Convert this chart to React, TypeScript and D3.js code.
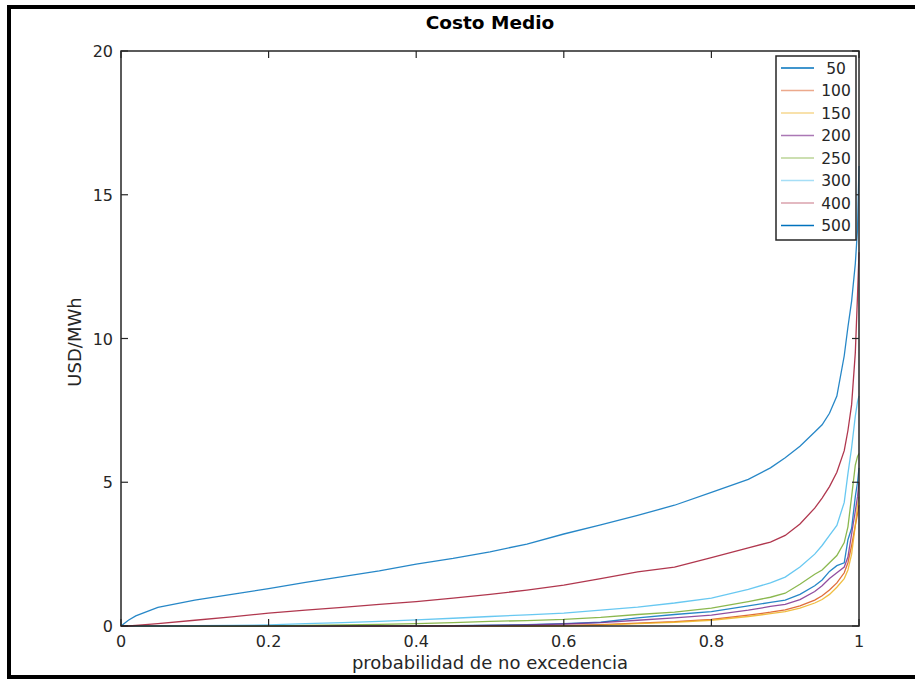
import React from "react";
import * as d3 from "d3";

const probs = [0, 0.01, 0.02, 0.05, 0.1, 0.15, 0.2, 0.25, 0.3, 0.35, 0.4, 0.45, 0.5, 0.55, 0.6, 0.65, 0.7, 0.75, 0.8, 0.85, 0.88, 0.9, 0.92, 0.94, 0.95, 0.96, 0.97, 0.98, 0.985, 0.99, 0.995, 0.998, 1];

const s50 = [0, 0, 0, 0, 0, 0, 0, 0, 0, 0, 0, 0.01, 0.03, 0.05, 0.08, 0.13, 0.28, 0.4, 0.5, 0.7, 0.82, 0.9, 1.1, 1.4, 1.6, 1.9, 2.1, 2.2, 3.0, 3.4, 4.5, 5.0, 5.5];
const s100 = [0, 0, 0, 0, 0, 0, 0, 0, 0, 0, 0, 0, 0, 0, 0.02, 0.05, 0.1, 0.15, 0.23, 0.38, 0.48, 0.56, 0.7, 0.9, 1.05, 1.25, 1.5, 1.85, 2.2, 2.8, 3.5, 3.9, 4.2];
const s150 = [0, 0, 0, 0, 0, 0, 0, 0, 0, 0, 0, 0, 0, 0, 0, 0.03, 0.08, 0.13, 0.2, 0.33, 0.43, 0.5, 0.62, 0.8, 0.92, 1.1, 1.35, 1.65, 1.95, 2.5, 3.5, 4.2, 4.5];
const s200 = [0, 0, 0, 0, 0, 0, 0, 0, 0, 0, 0, 0, 0.02, 0.04, 0.07, 0.12, 0.2, 0.28, 0.38, 0.55, 0.68, 0.75, 0.92, 1.2, 1.4, 1.65, 1.85, 2.05, 2.4, 3.2, 4.0, 4.5, 5.0];
const s250 = [0, 0, 0, 0, 0, 0, 0, 0.02, 0.04, 0.06, 0.08, 0.12, 0.16, 0.19, 0.23, 0.3, 0.4, 0.48, 0.62, 0.85, 1.0, 1.14, 1.45, 1.8, 1.95, 2.2, 2.45, 2.9, 3.45, 4.5, 5.6, 5.9, 6.0];
const s300 = [0, 0, 0, 0, 0.01, 0.02, 0.04, 0.08, 0.12, 0.16, 0.21, 0.27, 0.33, 0.39, 0.45, 0.55, 0.66, 0.8, 0.97, 1.27, 1.5, 1.7, 2.05, 2.5, 2.8, 3.15, 3.5, 4.3, 5.3, 6.2, 7.3, 7.8, 8.0];
const s400 = [0, 0, 0.02, 0.08, 0.2, 0.32, 0.45, 0.55, 0.65, 0.75, 0.85, 0.97, 1.1, 1.25, 1.42, 1.65, 1.88, 2.05, 2.38, 2.72, 2.92, 3.15, 3.55, 4.1, 4.45, 4.85, 5.35, 6.1, 6.8, 7.7, 9.5, 11.5, 13.0];
const s500 = [0, 0.2, 0.35, 0.65, 0.9, 1.1, 1.3, 1.52, 1.72, 1.92, 2.15, 2.35, 2.58, 2.85, 3.2, 3.52, 3.85, 4.2, 4.65, 5.1, 5.5, 5.85, 6.25, 6.75, 7.0, 7.4, 8.0, 9.4, 10.4, 11.3, 12.6, 13.8, 16.0];

const seriesNames = ["50", "100", "150", "200", "250", "300", "400", "500"];
const seriesValues = [s50, s100, s150, s200, s250, s300, s400, s500];
const seriesColors = ["#0072BD", "#D95319", "#EDB120", "#7E2F8E", "#77AC30", "#4DBEEE", "#A2142F", "#0072BD"];
const legendOpacity = [1, 0.5, 0.5, 0.65, 0.5, 0.5, 0.4, 1];

const xTicks = [0, 0.2, 0.4, 0.6, 0.8, 1];
const yTicks = [0, 5, 10, 15, 20];

const W = 915;
const H = 679;
const left = 121, right = 859, top = 51, bottom = 626;
const axisColor = "#262626";
const font = "DejaVu Sans, sans-serif";

export default function App() {
  const x = d3.scaleLinear().domain([0, 1]).range([left, right]);
  const y = d3.scaleLinear().domain([0, 20]).range([bottom, top]);
  const line = d3
    .line<number>()
    .x((_, i) => x(probs[i]))
    .y((d) => y(d));

  const legX = 776, legY = 56, legW = 80, legH = 184;
  const legStep = 22.5;

  return (
    <div style={{ position: "fixed", left: 0, top: 0 }}>
      <svg width={W} height={H} style={{ display: "block", background: "#fff" }}>
        <rect x={0} y={0} width={W} height={H} fill="#fff" />
        <rect x={9} y={7} width={930} height={670} fill="none" stroke="#000" strokeWidth={4} />
        <text x={490} y={29} textAnchor="middle" fontFamily={font} fontWeight="bold" fontSize={18.5} fill="#000">
          Costo Medio
        </text>
        {/* plot lines */}
        <g>
          {seriesValues.map((vals, i) => (
            <path key={i} d={line(vals) || ""} fill="none" stroke={seriesColors[i]} strokeOpacity={0.85} strokeWidth={1.3} />
          ))}
        </g>
        {/* axes box */}
        <rect x={left} y={top} width={right - left} height={bottom - top} fill="none" stroke={axisColor} strokeWidth={1.5} />
        {xTicks.map((t) => (
          <g key={"x" + t}>
            <line x1={x(t)} x2={x(t)} y1={bottom} y2={bottom - 7} stroke={axisColor} strokeWidth={1.2} />
            <line x1={x(t)} x2={x(t)} y1={top} y2={top + 7} stroke={axisColor} strokeWidth={1.2} />
            <text x={x(t)} y={bottom + 21} textAnchor="middle" fontFamily={font} fontSize={16} fill={axisColor}>
              {String(t)}
            </text>
          </g>
        ))}
        {yTicks.map((t) => (
          <g key={"y" + t}>
            <line x1={left} x2={left + 7} y1={y(t)} y2={y(t)} stroke={axisColor} strokeWidth={1.2} />
            <line x1={right} x2={right - 7} y1={y(t)} y2={y(t)} stroke={axisColor} strokeWidth={1.2} />
            <text x={113} y={y(t) + 6} textAnchor="end" fontFamily={font} fontSize={16} fill={axisColor}>
              {String(t)}
            </text>
          </g>
        ))}
        <text x={490} y={669} textAnchor="middle" fontFamily={font} fontSize={18} fill={axisColor}>
          probabilidad de no excedencia
        </text>
        <text transform={`translate(81,342) rotate(-90)`} textAnchor="middle" fontFamily={font} fontSize={18} fill={axisColor}>
          USD/MWh
        </text>
        {/* legend */}
        <rect x={legX} y={legY} width={legW} height={legH} fill="#fff" stroke={axisColor} strokeWidth={1.5} />
        {seriesNames.map((n, i) => {
          const yy = legY + 12 + i * legStep;
          return (
            <g key={n}>
              <line x1={781} x2={814} y1={yy} y2={yy} stroke={seriesColors[i]} strokeOpacity={legendOpacity[i]} strokeWidth={1.5} />
              <text x={836} y={yy + 5.5} textAnchor="middle" fontFamily={font} fontSize={15.5} fill={axisColor}>
                {n}
              </text>
            </g>
          );
        })}
      </svg>
    </div>
  );
}
